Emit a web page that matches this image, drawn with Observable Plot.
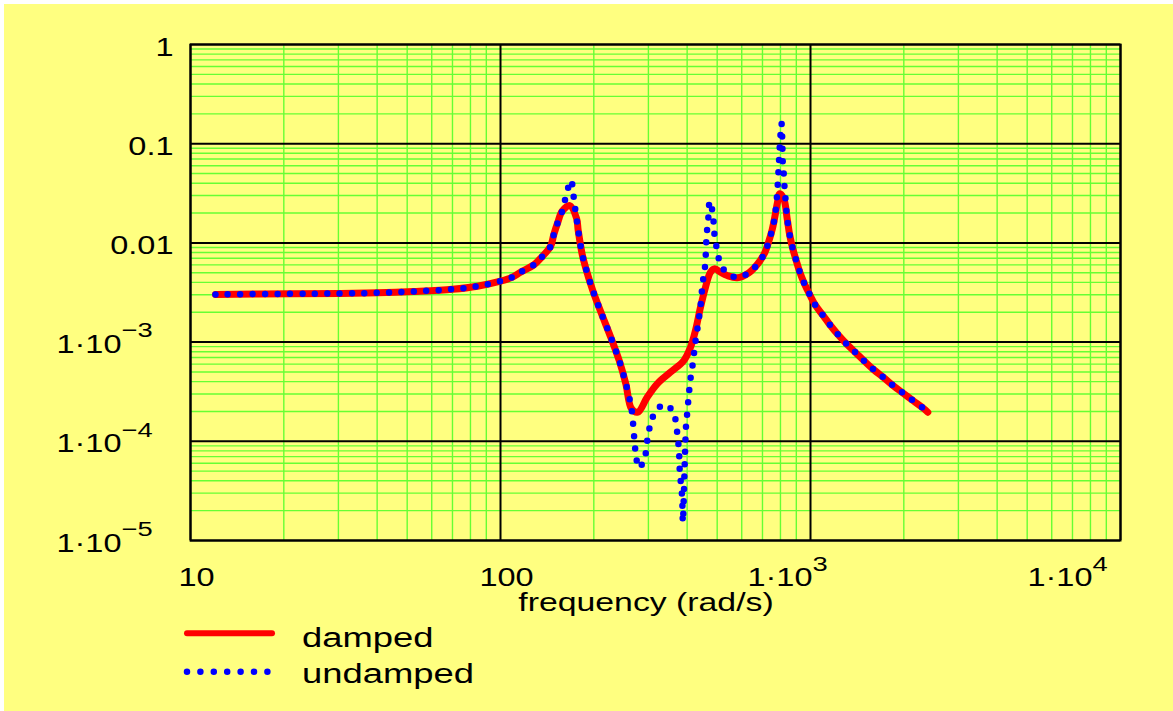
<!DOCTYPE html>
<html><head><meta charset="utf-8">
<script src="https://cdn.jsdelivr.net/npm/d3@7"></script>
<script src="https://cdn.jsdelivr.net/npm/@observablehq/plot@0.6"></script>
<style>
html,body{margin:0;padding:0;background:#fff;overflow:hidden;}
#wrap{position:absolute;left:4px;top:4px;width:1169px;height:707px;background:#ffff80;font-family:"Liberation Sans",Arial,sans-serif;}
#chart{position:absolute;left:0;top:0;}
#legend{position:absolute;left:0;top:616px;}
</style></head><body>
<div id="wrap"><div id="chart"></div>
<svg id="legend" width="600" height="90" font-family="Liberation Sans, Arial, sans-serif">
  <line x1="183" y1="13.3" x2="268" y2="13.3" stroke="#ff0000" stroke-width="6" stroke-linecap="round"/>
  <line x1="183" y1="51.7" x2="264" y2="51.7" stroke="#0000ff" stroke-width="6.5" stroke-linecap="round" stroke-dasharray="0,13.4"/>
  <text transform="translate(298,26.7) scale(1.3,1)" font-size="28" fill="#000">damped</text>
  <text transform="translate(298,63.3) scale(1.3,1)" font-size="28" fill="#000">undamped</text>
</svg>
</div>
<script>
// ---- data (frequency in rad/s, magnitude) ----
const dampedFreq = [12.04, 21.0, 30.5, 40.1, 52.4, 70.0, 84.3, 100, 109.3, 116.0, 128.1, 136.3, 145.0, 148.6, 153.0, 158.1, 167.3, 175.9, 178.1, 183.5, 188.0, 198.5, 211.8, 226.3, 241.5, 253.7, 264.6, 277.4, 297.3, 320.3, 353.5, 390.2, 410.2, 425.6, 441.8, 458.5, 475.8, 491.3, 512.4, 538.6, 580.0, 632.4, 676.1, 712.2, 733.7, 752.5, 767.0, 780.9, 796.2, 820.2, 841.1, 857.5, 876.9, 899.3, 923.7, 956.3, 994.8, 1038, 1099, 1160, 1234, 1313, 1404, 1497, 1600, 1724, 1849, 1991, 2145, 2309, 2390];
const dampedMag = [3.02e-3, 3.07e-3, 3.09e-3, 3.14e-3, 3.24e-3, 3.41e-3, 3.66e-3, 4.11e-3, 4.51e-3, 5.07e-3, 6.01e-3, 7.29e-3, 9.20e-3, 0.01215, 0.01605, 0.02088, 0.0238, 0.01774, 0.01334, 7.64e-3, 5.69e-3, 3.31e-3, 1.93e-3, 1.14e-3, 6.52e-4, 3.80e-4, 2.13e-4, 1.965e-4, 2.78e-4, 3.80e-4, 4.97e-4, 6.52e-4, 8.88e-4, 1.31e-3, 2.25e-3, 3.58e-3, 5.07e-3, 5.48e-3, 5.07e-3, 4.69e-3, 4.45e-3, 4.99e-3, 6.16e-3, 7.95e-3, 0.0104, 0.01365, 0.01816, 0.0248, 0.0313, 0.0278, 0.01749, 0.01187, 8.72e-3, 6.65e-3, 5.07e-3, 3.87e-3, 3.00e-3, 2.34e-3, 1.85e-3, 1.47e-3, 1.165e-3, 9.46e-4, 7.73e-4, 6.37e-4, 5.26e-4, 4.37e-4, 3.63e-4, 3.05e-4, 2.56e-4, 2.16e-4, 1.965e-4];

const undampedFreq = [12.04, 21.0, 30.5, 40.1, 52.4, 70.0, 84.3, 100, 109.3, 116.0, 128.1, 136.3, 145.0, 148.6, 153.0, 158.1,
  161.7, 165.8, 169.1, 171.6, 173.3,
  175.9, 178.1, 183.5, 188.0, 198.5, 211.8, 226.3, 241.5, 253.7, 264.6,
  269.2, 271.3, 274.0, 279.3, 291.4, 295.8, 299.5, 306.3, 317.0, 340.6,
  362.2, 368.7, 373.3, 376.1, 378.0, 378.9, 382.8, 385.6, 386.5, 387.5,
  390.2, 392.2, 394.3, 397.2, 401.1, 404.1, 407.9, 412.3, 418.4, 422.5,
  427.9, 434.2, 439.5, 444.1, 447.4, 452.7, 458.5, 459.6, 461.9, 465.3,
  469.8, 472.3, 483.9, 487.6, 491.3, 500.0, 509.8, 535.8, 580.0,
  632.4, 676.1, 712.2, 733.7, 752.5, 767.0,
  779.7, 788.5, 795.5, 802.1, 806.3, 811.0, 813.9, 820.2, 824.4, 830.6,
  841.1, 857.5, 876.9, 899.3, 923.7, 956.3, 994.8, 1038, 1099, 1160, 1234, 1313, 1404, 1497, 1600, 1724, 1849, 1991, 2145, 2309, 2390];
const undampedMag = [3.02e-3, 3.07e-3, 3.09e-3, 3.14e-3, 3.24e-3, 3.41e-3, 3.66e-3, 4.11e-3, 4.51e-3, 5.07e-3, 6.01e-3, 7.29e-3, 9.20e-3, 0.01215, 0.01605, 0.02088,
  0.02757, 0.0370, 0.0426, 0.0317, 0.0248,
  0.01774, 0.01334, 7.64e-3, 5.69e-3, 3.31e-3, 1.93e-3, 1.14e-3, 6.52e-4, 3.80e-4, 2.13e-4,
  1.207e-4, 9.07e-5, 6.91e-5, 5.36e-5, 6.66e-5, 8.87e-5, 1.18e-4, 1.558e-4, 2.04e-4, 2.35e-4,
  1.92e-4, 1.443e-4, 1.085e-4, 8.21e-5, 6.16e-5, 4.70e-5, 3.58e-5, 2.63e-5, 2.01e-5, 1.53e-5,
  2.73e-5, 4.88e-5, 8.72e-5, 1.52e-4, 2.04e-4, 2.74e-4, 3.65e-4, 4.86e-4, 6.42e-4, 8.56e-4,
  1.139e-3, 1.529e-3, 2.03e-3, 2.69e-3, 3.58e-3, 4.80e-3, 6.34e-3, 8.52e-3, 0.01125, 0.01508,
  0.01993, 0.02633, 0.0201, 0.01508, 0.01125, 8.44e-3, 6.45e-3, 4.99e-3, 4.51e-3,
  4.99e-3, 6.16e-3, 7.95e-3, 0.0104, 0.01365, 0.01816,
  0.0300, 0.0537, 0.0916, 0.1358, 0.160, 0.1077, 0.0651, 0.0489, 0.0370, 0.0278,
  0.01749, 0.01187, 8.72e-3, 6.65e-3, 5.07e-3, 3.87e-3, 3.00e-3, 2.34e-3, 1.85e-3, 1.47e-3, 1.165e-3, 9.46e-4, 7.73e-4, 6.37e-4, 5.26e-4, 4.37e-4, 3.63e-4, 3.05e-4, 2.56e-4, 2.16e-4, 1.965e-4];

// ---- axes / ticks ----
const decadesX = [10, 100, 1000, 10000];
const decadesY = [1e-5, 1e-4, 1e-3, 1e-2, 1e-1, 1];
const multiples = [2, 3, 4, 5, 6, 7, 8, 9];
const xPlainTicks = [10, 100];
const xPlainLabels = ["10", "100"];
const xExpTicks = [1000, 10000];
const xExpBase = ["1·10", "1·10"];
const xExpSup = ["3", "4"];
const yPlainTicks = [1, 0.1, 0.01];
const yPlainLabels = ["1", "0.1", "0.01"];
const yExpTicks = [1e-3, 1e-4, 1e-5];
const yExpBase = ["1·10", "1·10", "1·10"];
const yExpSup = ["\u22123", "\u22124", "\u22125"];
const xTitle = "frequency (rad/s)";

const GREEN = "#66ff33";
const xMinor = decadesX.slice(0, -1).flatMap(d => multiples.map(k => d * k));
const yMinor = decadesY.slice(0, -1).flatMap(d => multiples.map(k => d * k));
const damped = dampedFreq.map((f, i) => ({f, m: dampedMag[i]}));
const undamped = undampedFreq.map((f, i) => ({f, m: undampedMag[i]}));
const xPlain = xPlainTicks.map((v, i) => ({v, label: xPlainLabels[i]}));
const xExp = xExpTicks.map((v, i) => ({v, base: xExpBase[i], sup: xExpSup[i]}));
const yPlain = yPlainTicks.map((v, i) => ({v, label: yPlainLabels[i]}));
const yExp = yExpTicks.map((v, i) => ({v, base: yExpBase[i], sup: yExpSup[i]}));

const xExpMarks = (rows, dx) => [
  Plot.text(rows, {x: "v", text: "base", frameAnchor: "bottom", textAnchor: "end", lineAnchor: "middle", dx, dy: 37, fontSize: 25}),
  Plot.text(rows, {x: "v", text: "sup", frameAnchor: "bottom", textAnchor: "start", lineAnchor: "middle", dx, dy: 23.5, fontSize: 21})
];

const plot = Plot.plot({
  width: 1169, height: 620,
  marginLeft: 186, marginRight: 53, marginTop: 40, marginBottom: 84,
  x: {type: "log", domain: [10, 1e4], axis: null},
  y: {type: "log", domain: [1e-5, 1], axis: null},
  style: {background: "transparent", fontFamily: "Liberation Sans, Arial, sans-serif", color: "black"},
  marks: [
    Plot.ruleX(xMinor, {stroke: GREEN, strokeWidth: 1.4}),
    Plot.ruleY(yMinor, {stroke: GREEN, strokeWidth: 1.4}),
    Plot.ruleX(decadesX, {stroke: "black", strokeWidth: 2}),
    Plot.ruleY(decadesY, {stroke: "black", strokeWidth: 2}),
    Plot.frame({stroke: "black", strokeWidth: 2}),
    Plot.line(damped, {x: "f", y: "m", curve: "catmull-rom", stroke: "#ff0000", strokeWidth: 7, strokeLinecap: "round", strokeLinejoin: "round"}),
    Plot.line(undamped, {x: "f", y: "m", curve: "catmull-rom", stroke: "#0000ff", strokeWidth: 6.5, strokeLinecap: "round", strokeDasharray: "0,12.4"}),
    Plot.text(yPlain, {y: "v", text: "label", frameAnchor: "left", textAnchor: "end", lineAnchor: "middle", dx: -17, dy: 3.5, fontSize: 25}),
    Plot.text(yExp, {y: "v", text: "base", frameAnchor: "left", textAnchor: "end", lineAnchor: "middle", dx: -69, dy: 3, fontSize: 25}),
    Plot.text(yExp, {y: "v", text: "sup", frameAnchor: "left", textAnchor: "start", lineAnchor: "middle", dx: -69, dy: -11.5, fontSize: 21}),
    Plot.text(xPlain, {x: "v", text: "label", frameAnchor: "bottom", textAnchor: "middle", lineAnchor: "middle", dx: 6, dy: 37.5, fontSize: 25}),
    ...xExpMarks(xExp.filter(d => d.v < 1e4), 2),
    ...xExpMarks(xExp.filter(d => d.v >= 1e4), -28),
    Plot.text([xTitle], {text: d => d, frameAnchor: "bottom", textAnchor: "middle", lineAnchor: "middle", dx: -9.5, dy: 62, fontSize: 26})
  ]
});
plot.querySelectorAll("text").forEach(t => {
  const tr = t.getAttribute("transform");
  if (tr) t.setAttribute("transform", tr + " scale(1.3,1)");
});
document.getElementById("chart").appendChild(plot);
</script>
</body></html>
